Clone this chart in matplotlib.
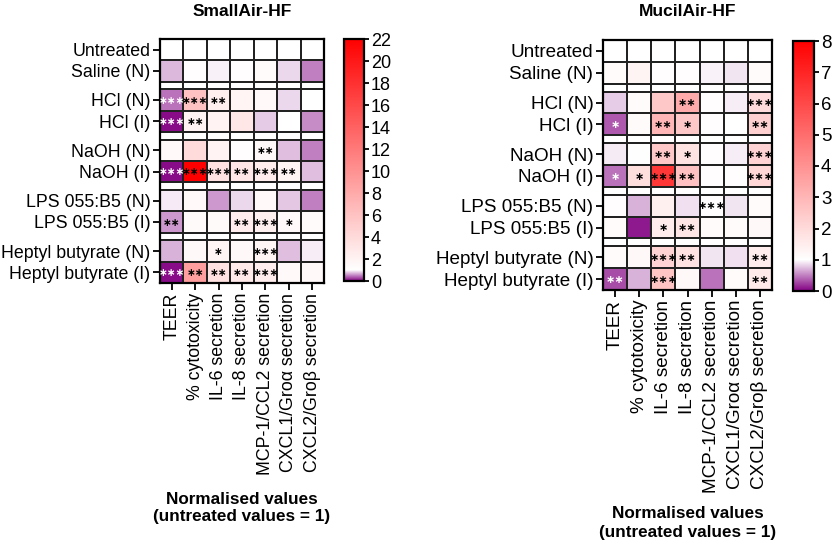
import numpy as np
import matplotlib
matplotlib.use('Agg')
import matplotlib.pyplot as plt
from matplotlib.colors import LinearSegmentedColormap, Normalize

plt.rcParams['font.family'] = ['Liberation Sans', 'DejaVu Sans']

# row / column labels
rows = ['Untreated', 'Saline (N)', 'HCl (N)', 'HCl (I)', 'NaOH (N)', 'NaOH (I)',
        'LPS 055:B5 (N)', 'LPS 055:B5 (I)', 'Heptyl butyrate (N)', 'Heptyl butyrate (I)']
group_sizes = [2, 2, 2, 2, 2]
cols = ['TEER', '% cytotoxicity', 'IL-6 secretion', 'IL-8 secretion',
        'MCP-1/CCL2 secretion', 'CXCL1/Gro\u03b1 secretion', 'CXCL2/Gro\u03b2 secretion']

# SmallAir-HF normalised values
small_vals = [
    [1.0, 1.0, 1.0, 1.0, 1.0, 1.0, 1.0],
    [0.72, 1.2, 0.95, 1.2, 1.3, 0.85, 0.5],
    [0.45, 6.0, 2.3, 1.8, 1.5, 0.85, 1.0],
    [0.05, 2.0, 2.0, 3.0, 0.8, 1.0, 0.55],
    [1.5, 4.0, 2.0, 1.2, 1.6, 0.75, 0.5],
    [0.05, 22.0, 3.5, 3.0, 2.5, 1.8, 0.75],
    [0.92, 1.5, 0.6, 0.85, 1.5, 0.78, 0.5],
    [0.6, 1.4, 1.4, 2.5, 2.2, 1.5, 1.3],
    [0.7, 1.6, 1.8, 1.6, 1.8, 0.75, 0.93],
    [0.05, 9.0, 3.5, 2.8, 2.5, 1.5, 1.5],
]
small_stars = [
    ['', '', '', '', '', '', ''],
    ['', '', '', '', '', '', ''],
    ['***', '***', '**', '', '', '', ''],
    ['***', '**', '', '', '', '', ''],
    ['', '', '', '', '**', '', ''],
    ['***', '***', '***', '**', '***', '**', ''],
    ['', '', '', '', '', '', ''],
    ['**', '', '', '**', '***', '*', ''],
    ['', '', '*', '', '***', '', ''],
    ['***', '**', '**', '**', '***', '', ''],
]

# MucilAir-HF normalised values
mucil_vals = [
    [1.0, 1.0, 1.0, 1.0, 1.0, 1.0, 1.0],
    [1.1, 1.3, 1.05, 1.05, 0.95, 0.9, 1.1],
    [0.8, 1.1, 2.5, 3.3, 1.05, 0.93, 2.0],
    [0.35, 1.1, 3.0, 2.5, 1.05, 1.0, 2.3],
    [0.92, 1.02, 2.5, 1.8, 1.05, 0.93, 2.2],
    [0.45, 1.9, 6.5, 2.7, 1.05, 1.05, 2.1],
    [1.05, 0.7, 1.4, 0.88, 1.05, 0.9, 1.1],
    [1.1, 0.1, 1.5, 1.7, 1.1, 1.1, 1.2],
    [1.1, 1.2, 2.2, 1.8, 0.9, 0.88, 1.5],
    [0.3, 0.7, 2.6, 1.2, 0.45, 1.1, 1.6],
]
mucil_stars = [
    ['', '', '', '', '', '', ''],
    ['', '', '', '', '', '', ''],
    ['', '', '', '**', '', '', '***'],
    ['*', '', '**', '*', '', '', '**'],
    ['', '', '**', '*', '', '', '***'],
    ['*', '*', '***', '**', '', '', '***'],
    ['', '', '', '', '***', '', ''],
    ['', '', '*', '**', '', '', ''],
    ['', '', '***', '**', '', '', '**'],
    ['**', '', '***', '', '', '', '**'],
]

GAP = 0.36
PURPLE = '#820082'


def make_cmap(vmax):
    return LinearSegmentedColormap.from_list(
        'pwr', [(0.0, PURPLE), (1.0 / vmax, 'white'), (1.0, '#ff0000')], N=4096)


def draw_panel(fig, ax_rect, cax_rect, vals, stars, vmax, cticks, title, title_xy,
               lab_xy, fs, cfs, sfs):
    ax = fig.add_axes(ax_rect)
    cax = fig.add_axes(cax_rect)
    cmap = make_cmap(vmax)
    norm = Normalize(0, vmax)
    vals = np.array(vals)

    # build row edges with gaps between groups
    edges = [0.0]
    centers = []
    data_idx = []
    y = 0.0
    k = 0
    for g, size in enumerate(group_sizes):
        if g > 0:
            y += GAP
            edges.append(y)
            data_idx.append(None)
        for _ in range(size):
            centers.append(y + 0.5)
            y += 1
            edges.append(y)
            data_idx.append(k)
            k += 1
    C = np.ma.masked_all((len(edges) - 1, len(cols)))
    for i, d in enumerate(data_idx):
        if d is not None:
            C[i] = vals[d]
    xe = np.arange(len(cols) + 1)
    mesh = ax.pcolormesh(xe, edges, C, cmap=cmap, norm=norm,
                         edgecolors='#222222', linewidth=1.2)
    ax.set_xlim(0, len(cols))
    ax.set_ylim(y, 0)
    ax.set_yticks(centers)
    ax.set_yticklabels(rows, fontsize=fs)
    ax.set_xticks(np.arange(len(cols)) + 0.5)
    ax.set_xticklabels(cols, rotation=90, fontsize=fs)
    ax.tick_params(length=5, width=1.3, pad=2)
    for s in ax.spines.values():
        s.set_linewidth(1.6)

    # significance stars
    for r in range(len(rows)):
        for c in range(len(cols)):
            txt = stars[r][c]
            if txt:
                col = 'white' if vals[r, c] < 0.5 else 'black'
                ax.text(c + 0.5, centers[r] + 0.03, txt.replace('*', '\u2217'),
                        ha='center', va='center', fontsize=sfs, color=col,
                        fontweight='bold', family=['DejaVu Sans'])

    cb = fig.colorbar(mesh, cax=cax)
    cb.set_ticks(cticks)
    cb.ax.tick_params(labelsize=cfs, length=3.5, width=1.3, pad=1.5)
    cb.outline.set_linewidth(1.6)

    fig.text(title_xy[0], title_xy[1], title, ha='center', va='center',
             fontsize=12.5, fontweight='bold')
    fig.text(lab_xy[0], lab_xy[1], 'Normalised values\n(untreated values = 1)',
             ha='center', va='center', fontsize=12.3, fontweight='bold',
             linespacing=1.25)
    return ax


W, H = 833, 546
fig = plt.figure(figsize=(W / 100, H / 100), dpi=100)


def rect(x0, y0, x1, y1):
    return [x0 / W, 1 - y1 / H, (x1 - x0) / W, (y1 - y0) / H]


draw_panel(fig, rect(160, 39, 324, 283), rect(344, 39, 364, 281),
           small_vals, small_stars, 22, np.arange(0, 23, 2),
           'SmallAir-HF', (242 / W, 1 - 12 / H), (242 / W, 1 - 508 / H), 12.8, 13, 7.6)
draw_panel(fig, rect(603, 40, 772, 290), rect(793, 41, 814, 291),
           mucil_vals, mucil_stars, 8, np.arange(0, 9, 1),
           'MucilAir-HF', (688 / W, 1 - 12 / H), (688 / W, 1 - 523 / H), 13.6, 13.5, 8.0)

fig.savefig('out.png', dpi=100)
